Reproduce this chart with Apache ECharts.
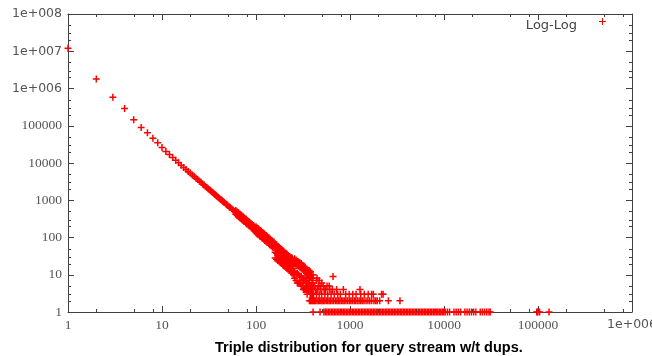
<!DOCTYPE html>
<html>
<head>
<meta charset="utf-8">
<script src="https://cdn.jsdelivr.net/npm/echarts@6/dist/echarts.min.js"></script>
<style>html,body{margin:0;padding:0;background:#fff}#c{width:652px;height:356px}</style>
</head>
<body>
<div id="c"></div>
<script>
// Counts for x = 1..30 (one point per x)
const headY = [12000000, 1800000, 580000, 290000, 145000, 90000, 65000, 46000, 35000, 26000,
  20500, 16800, 14000, 11800, 10100, 8700, 7600, 6700, 5900, 5350,
  4750, 4350, 3900, 3600, 3250, 3020, 2750, 2580, 2350, 2210];

// Main band beyond x = 30: centre of the cloud, plus its upper / lower spread (null = none)
const bandX = [31, 32, 33, 34, 35, 36, 37, 38, 39, 40, 41, 42, 43, 44, 45, 46, 48, 49, 50, 52, 53, 55, 57, 59,
  61, 63, 65, 67, 69, 71, 73, 75, 78, 80, 83, 85, 88, 91, 94, 97,
  100, 103, 106, 110, 113, 117, 121, 124, 128, 132, 137, 141, 146, 150, 155,
  160, 165, 171, 176, 182, 188, 194, 200, 207, 213, 220, 227, 235, 242, 250,
  258, 267, 275, 284, 293, 303, 313, 323, 333, 344, 355, 367, 379, 391, 404];
const bandY = [2050, 1900, 1800, 1670, 1580, 1475, 1400, 1310, 1250, 1175, 1120, 1055, 1010, 955, 915, 865, 797, 755, 728, 663, 642, 588, 549, 503,
  474, 437, 413, 382, 363, 336, 322, 299, 279, 259, 244, 228, 215, 196, 187, 170,
  162, 150, 143, 130, 125, 114, 108, 100, 95, 87, 82, 76, 71, 66, 63,
  58, 55, 50, 48, 44, 41, 38, 36, 33, 31, 29, 27, 25, 24, 22,
  21, 19, 18, 17, 16, 15, 14, 13, 12, 11, 10, 10, 9, 8, 8];
const bandHiY = [null, null, null, null, null, null, null, null, null, null, null, null, null, null, null, null, null, null, null, null, null, null, null, null,
  531, 489, 463, 428, 407, 376, 361, 335, 312, 290, 273, 255, 241, 220, 209, 190,
  194, 180, 172, 156, 150, 137, 130, 120, 114, 104, 98, 91, 85, 79, 76,
  67, 63, 58, 55, 51, 47, 44, 41, 38, 36, 33, 31, 29, 28, 25,
  27, 25, 23, 22, 21, 20, 18, 17, 16, 14, 13, 13, 12, 10, 10];
const bandLoY = [null, null, null, null, null, null, null, null, null, null, null, null, null, null, null, null, null, null, null, null, null, null, null, null,
  423, 390, 369, 341, 324, 300, 288, 267, 249, 231, 218, 204, 192, 175, 167, 152,
  135, 125, 119, 108, 104, 95, 90, 83, 79, 73, 68, 63, 59, 55, 53,
  40, 38, 34, 33, 30, 28, 26, 25, 23, 21, 20, 19, 17, 17, 15,
  12, 11, 11, 10, 9, 9, 8, 8, 7, 6, 6, 6, 5, 5, 5];
const bandLo2Y = [null, null, null, null, null, null, null, null, null, null, null, null, null, null, null, null, null, null, null, null, null, null, null, null,
  null, null, null, null, null, null, null, null, null, null, null, null, null, null, null, null,
  null, null, null, null, null, null, null, null, null, null, null, null, null, null, null,
  28, 26, 24, 23, 21, 20, 18, 17, 16, 15, 14, 13, 12, 11, 10,
  8, 7, 6, 6, 6, 5, 5, 5, 4, 4, 4, 4, 3, 3, 3];

// Tail: x values with a count of 2 and of 3, and scattered higher counts (x, count)
const twosX = [370, 380, 390, 400, 410, 420, 430, 445, 460, 475, 490, 505, 520, 540, 560, 580, 600, 620, 645, 670,
  700, 725, 750, 780, 810, 840, 870, 905, 940, 980, 1020, 1060, 1110, 1150, 1200, 1250, 1300, 1350, 1410,
  1480, 1550, 1620, 1700, 1800, 1880, 1950, 2070, 2560, 3400];
const threesX = [350, 380, 400, 410, 440, 470, 500, 540, 580, 630, 680, 740, 790, 900, 980, 1070, 1160, 1300,
  1420, 1560, 1700, 1770, 2170, 2250];
const tailPoints = [[300,6],[310,5],[320,7],[320,4],[330,4],[340,6],[340,8],[350,5],[360,4],[360,6],[370,7],
  [380,5],[390,4],[400,4],[400,6],[420,5],[430,4],[440,7],[446,8],[450,4],[460,5],[470,7],[480,5],[490,4],
  [500,6],[520,5],[530,4],[550,4],[570,5],[600,5],[610,4],[650,4],[660,9],[720,4],[850,4],[1277,4]];

// x values with a count of 1
const onesX = [405, 480, 527, 547, 567, 588, 610, 633, 657, 681, 707, 733, 761, 789, 819, 849, 881, 914, 948, 984,
  1020, 1059, 1098, 1139, 1182, 1226, 1272, 1320, 1369, 1420, 1473, 1528, 1586, 1645, 1706, 1770, 1837,
  1905, 1977, 2050, 2127, 2207, 2289, 2375, 2464, 2556, 2651, 2750, 2853, 2960, 3071, 3186, 3305, 3428,
  3556, 3690, 3828, 3971, 4119, 4273, 4433, 4599, 4771, 4949, 5134, 5326, 5526, 5732, 5947, 6169, 6400,
  6639, 6888, 7150, 7410, 7690, 7980, 8280, 8590, 8910, 9240, 9590, 9950,
  10300, 10870, 11470, 12770, 13470, 14210, 14990, 16690, 17610, 18580, 19600, 20680, 21820,
  24290, 25620, 27030, 28520, 30090, 31000, 97000, 99500, 104000, 131000];

const xTickLabels = ['1', '10', '100', '1000', '10000', '100000', '1e+006'];
const yTickLabels = ['1', '10', '100', '1000', '10000', '100000', '1e+006', '1e+007', '1e+008'];
const xMinorTicks = [2,5,8, 20,50,80, 200,500,800, 2000,5000,8000, 20000,50000,80000, 200000,500000,800000];
const yMinorTicks = [2,3,5, 20,30,50, 200,300,500, 2000,3000,5000, 20000,30000,50000,
  200000,300000,500000, 2000000,3000000,5000000, 20000000,30000000,50000000];

const points = [];
headY.forEach((y, i) => points.push([i + 1, y]));
bandX.forEach((x, i) => {
  points.push([x, bandY[i]]);
  if (bandHiY[i] != null) points.push([x, bandHiY[i]]);
  if (bandLoY[i] != null) points.push([x, bandLoY[i]]);
  if (bandLo2Y[i] != null) points.push([x, bandLo2Y[i]]);
});
twosX.forEach(x => points.push([x, 2]));
threesX.forEach(x => points.push([x, 3]));
tailPoints.forEach(p => points.push(p));
onesX.forEach(x => points.push([x, 1]));

const plus = 'path://M2.75,0h1.5v7h-1.5z M0,2.75h7v1.5h-7z';
const legendPlus = 'path://M3,0h1v7h-1z M0,3h7v1h-7z M0,14.99h0.01v0.01h-0.01z';
const frame = '#404040';
const labelColor = '#555';
const XMIN = 1, XMAX = 1e6, YMIN = 1, YMAX = 1e8;

function fmt(v, labels) {
  const s = labels[Math.round(Math.log10(v))];
  if (s === undefined) return '';
  return s.indexOf('e') >= 0 ? '{s|' + s + '}' : '{n|' + s + '}';
}
const rich = {
  s: { fontFamily: 'DejaVu Sans', fontSize: 12.5, color: labelColor },
  n: { fontFamily: 'Liberation Serif', fontSize: 13.5, color: labelColor }
};
function axisBase(extra) {
  return Object.assign({
    type: 'log', logBase: 10, splitNumber: 10,
    axisLine: { show: true, lineStyle: { color: frame, width: 1 } },
    axisTick: { show: true, inside: true, length: 6, lineStyle: { color: frame, width: 1 } },
    splitLine: { show: false },
    minorTick: { show: false }
  }, extra);
}

const chart = echarts.init(document.getElementById('c'), null, { renderer: 'canvas' });
chart.setOption({
  animation: false,
  backgroundColor: '#fff',
  title: {
    text: 'Triple distribution for query stream w/t dups.',
    left: 215, top: 340, padding: 0,
    textStyle: { fontFamily: 'Liberation Sans', fontWeight: 'bold', fontSize: 14.5, color: '#000' }
  },
  legend: {
    data: [{ name: 'Log-Log', icon: legendPlus }],
    right: 41, top: 13, align: 'right',
    itemWidth: 7, itemHeight: 15, selectedMode: false,
    textStyle: { fontFamily: 'DejaVu Sans', fontSize: 13, color: '#444', padding: [0, 17, 0, 0] },
    itemStyle: { color: '#ff0000' }
  },
  grid: { left: 68, right: 20, top: 14, bottom: 44, containLabel: false, outerBoundsMode: 'none' },
  xAxis: [
    axisBase({ min: XMIN, max: XMAX, position: 'bottom',
      axisLabel: { margin: 6, showMinLabel: true, showMaxLabel: true, formatter: v => fmt(v, xTickLabels), rich } }),
    axisBase({ min: XMIN, max: XMAX, position: 'top', axisLabel: { show: false } })
  ],
  yAxis: [
    axisBase({ min: YMIN, max: YMAX, position: 'left',
      axisLabel: { margin: 6, showMinLabel: true, showMaxLabel: true, formatter: v => fmt(v, yTickLabels), rich } }),
    axisBase({ min: YMIN, max: YMAX, position: 'right', axisLabel: { show: false } })
  ],
  series: [
    {
      name: 'Log-Log', type: 'scatter', data: points,
      symbol: plus, symbolSize: 7, clip: false, large: false, progressive: 0,
      itemStyle: { color: '#ff0000', borderWidth: 0, opacity: 1 }, emphasis: { disabled: true }, silent: true
    },
    {
      type: 'custom', silent: true, clip: false, z: 5,
      data: xMinorTicks.map(v => [v, YMIN]),
      renderItem: (params, api) => {
        const v = api.value(0);
        const b = api.coord([v, YMIN]);
        const t = api.coord([v, YMAX]);
        const x = Math.round(b[0]) + 0.5;
        const st = { stroke: frame, lineWidth: 1 };
        return { type: 'group', children: [
          { type: 'line', shape: { x1: x, y1: b[1], x2: x, y2: b[1] - 3 }, style: st },
          { type: 'line', shape: { x1: x, y1: t[1], x2: x, y2: t[1] + 3 }, style: st }
        ] };
      }
    },
    {
      type: 'custom', silent: true, clip: false, z: 5,
      data: yMinorTicks.map(v => [XMIN, v]),
      renderItem: (params, api) => {
        const v = api.value(1);
        const l = api.coord([XMIN, v]);
        const r = api.coord([XMAX, v]);
        const y = Math.round(l[1]) + 0.5;
        const st = { stroke: frame, lineWidth: 1 };
        return { type: 'group', children: [
          { type: 'line', shape: { x1: l[0], y1: y, x2: l[0] + 3, y2: y }, style: st },
          { type: 'line', shape: { x1: r[0], y1: y, x2: r[0] - 3, y2: y }, style: st }
        ] };
      }
    }
  ]
});
</script>
</body>
</html>
